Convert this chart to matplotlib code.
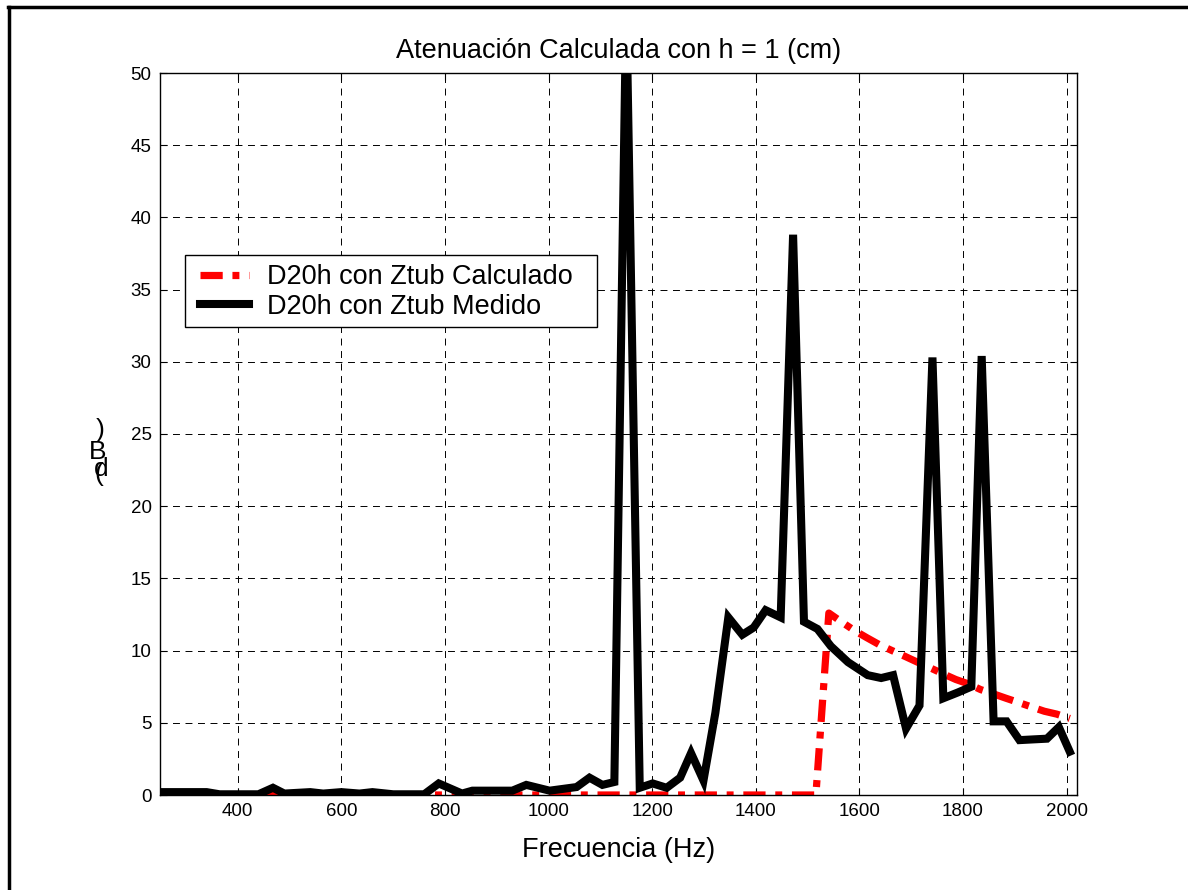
import numpy as np
import matplotlib
matplotlib.use("Agg")
import matplotlib.pyplot as plt
from matplotlib.lines import Line2D
from matplotlib.patches import Rectangle

# Datos
freq_medido = [250, 340, 365, 440, 468, 490, 540, 565, 600, 635, 660, 700, 760, 788,
               833, 853, 930, 957, 1002, 1054, 1079, 1104, 1127, 1150, 1176, 1201,
               1228, 1254, 1275, 1299, 1322, 1347, 1374, 1396, 1419, 1448, 1472,
               1493, 1519, 1545, 1578, 1616, 1642, 1665, 1690, 1716, 1741, 1762,
               1790, 1816, 1836, 1859, 1884, 1909, 1935, 1962, 1985, 2006]
aten_medido = [0.2, 0.2, 0.05, 0.05, 0.5, 0.1, 0.2, 0.1, 0.2, 0.1, 0.2, 0.05, 0.05, 0.8,
               0.1, 0.3, 0.3, 0.7, 0.3, 0.55, 1.2, 0.7, 0.9, 55.0, 0.5, 0.8,
               0.5, 1.2, 2.9, 1.0, 5.7, 12.3, 11.1, 11.6, 12.8, 12.3, 38.8,
               12.0, 11.5, 10.3, 9.2, 8.3, 8.1, 8.3, 4.6, 6.2, 30.3, 6.7,
               7.1, 7.5, 30.4, 5.1, 5.1, 3.8, 3.85, 3.9, 4.7, 3.0]

freq_calculado = [250, 1516, 1541, 1565, 1590, 1614, 1639, 1663, 1688, 1712, 1737,
                  1761, 1786, 1810, 1834, 1859, 1883, 1908, 1932, 1957, 1981, 2006]
aten_calculado = [0.0, 0.0, 12.6, 12.0, 11.4, 10.9, 10.4, 10.0, 9.6, 9.2, 8.8,
                  8.4, 8.0, 7.7, 7.3, 7.0, 6.7, 6.4, 6.1, 5.8, 5.6, 5.3]

x_ticks = [400, 600, 800, 1000, 1200, 1400, 1600, 1800, 2000]
y_ticks = [0, 5, 10, 15, 20, 25, 30, 35, 40, 45, 50]

plt.rcParams['font.family'] = ['Liberation Sans', 'DejaVu Sans']
plt.rcParams['lines.scale_dashes'] = False

W, H = 1188, 890
fig = plt.figure(figsize=(W / 100, H / 100), dpi=100)
ax = fig.add_axes([160 / W, 1 - 795 / H, (1077 - 160) / W, (795 - 73) / H])

ax.plot(freq_calculado, aten_calculado, color='red', linewidth=5.2,
        linestyle=(0, (16, 7, 5, 7)), dash_capstyle='butt',
        label='D20h con Ztub Calculado')
ax.plot(freq_medido, aten_medido, color='black', linewidth=5.8,
        solid_joinstyle='miter', label='D20h con Ztub Medido')

ax.set_xlim(250, 2020)
ax.set_ylim(0, 50)
ax.set_xticks(x_ticks)
ax.set_yticks(y_ticks)
ax.tick_params(direction='in', top=True, right=True, length=5, labelsize=13.5, pad=6)
ax.grid(True, color='black', linestyle=(0, (5, 4)), linewidth=0.7)
for s in ax.spines.values():
    s.set_linewidth(1.0)

ax.set_title('Atenuación Calculada con h = 1 (cm)', fontsize=19.5, pad=11)
ax.set_xlabel('Frecuencia (Hz)', fontsize=19.5, labelpad=12)

# etiqueta del eje y (caracteres apilados como en el original)
for ch, (px, py) in zip(')Bd(', [(100, 430), (98, 452), (101, 469), (99, 474)]):
    fig.text(px / W, 1 - py / H, ch, fontsize=19, ha='center', va='center')

# leyenda sin marco propio; el marco se dibuja aparte (mas ancho, como en MATLAB)
leg = ax.legend(loc='upper left', bbox_to_anchor=((191 - 160) / 917, (795 - 255) / 722),
                borderaxespad=0, fontsize=19.5, handlelength=1.8, handletextpad=0.67,
                frameon=False, borderpad=0.35, labelspacing=0.12)
leg.set_zorder(6)
ax.add_patch(Rectangle((185 / W, 1 - 327 / H), (597 - 185) / W, (327 - 255) / H,
                       transform=fig.transFigure, facecolor='white', clip_on=False,
                       edgecolor='black', linewidth=1.0, zorder=5.5))

# borde de la figura (solo arriba e izquierda)
fig.add_artist(Line2D([8 / W, 1], [1 - 7 / H, 1 - 7 / H], color='black', linewidth=2.5,
                      transform=fig.transFigure))
fig.add_artist(Line2D([9 / W, 9 / W], [0, 1 - 7 / H], color='black', linewidth=2.5,
                      transform=fig.transFigure))

fig.savefig('out.png', dpi=100)
